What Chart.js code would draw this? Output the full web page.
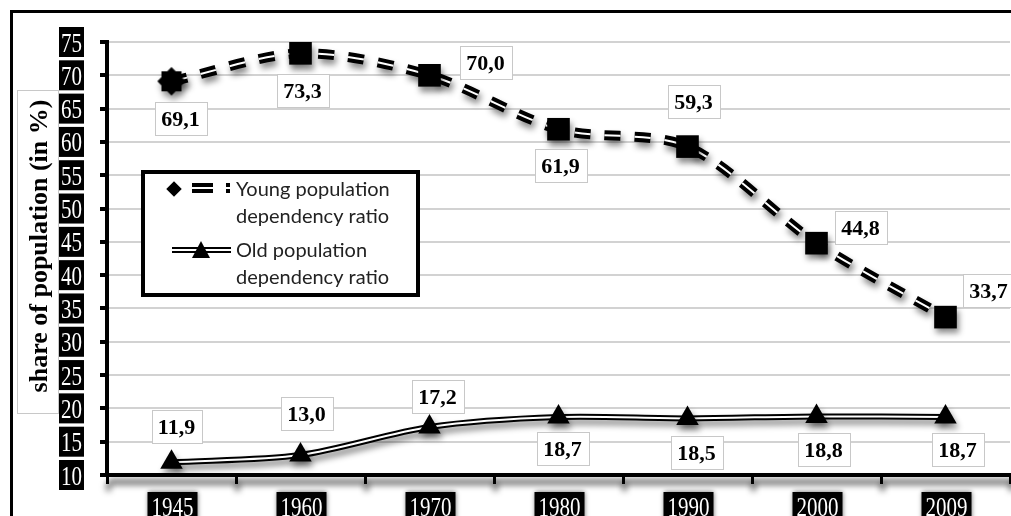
<!DOCTYPE html>
<html>
<head>
<meta charset="utf-8">
<script src="https://cdn.jsdelivr.net/npm/chart.js@4.4.1/dist/chart.umd.min.js"></script>
<style>
  html, body { margin: 0; padding: 0; background: #fff; overflow: hidden; }
  #wrap { width: 1011px; height: 516px; position: relative; }
</style>
</head>
<body>
<div id="wrap"><canvas id="c" width="1011" height="516"></canvas></div>
<script>
// ---- data ----
const years = ['1945', '1960', '1970', '1980', '1990', '2000', '2009'];
const youngRatio = [69.1, 73.3, 70.0, 61.9, 59.3, 44.8, 33.7];
const oldRatio = [11.9, 13.0, 17.2, 18.7, 18.5, 18.8, 18.7];
const yMin = 10;
const yMax = 75;
const yStep = 5;
const youngName = ['Young population', 'dependency ratio'];
const oldName = ['Old population', 'dependency ratio'];
const axisTitle = 'share of population (in %)';

// value-label placement relative to its point, in pixels
const youngLabelOffset = [[9, 37], [2, 37], [56, -13], [2, 36], [6, -45], [44, -16], [43, -27]];
const oldLabelOffset = [[5, -36], [6, -42], [8, -31], [4, 31], [9, 34], [7, 33], [12, 32]];

const fmt = v => v.toFixed(1).replace('.', ',');

// first marker of the young series: square overlaid with a diamond
function starMarker() {
  const cv = document.createElement('canvas');
  cv.width = 32; cv.height = 32;
  const g = cv.getContext('2d');
  g.fillStyle = '#000';
  g.fillRect(6, 6, 20, 20);
  g.save();
  g.translate(16, 16);
  g.rotate(Math.PI / 4);
  g.fillRect(-10, -10, 20, 20);
  g.restore();
  return cv;
}
const youngMarkers = years.map((_, i) => i === 0 ? starMarker() : 'rect');

const DASH = [16, 14];
const TENSION = 0.3;

// datasets with a drop shadow
const shadowSets = new Set([0, 2, 3, 5]);

const shadowPlugin = {
  id: 'shadows',
  beforeDatasetDraw(chart, args) {
    if (!shadowSets.has(args.index)) return;
    const c = chart.ctx;
    c.save();
    c.shadowColor = 'rgba(0,0,0,0.45)';
    c.shadowBlur = 6;
    c.shadowOffsetX = 2;
    c.shadowOffsetY = 5;
  },
  afterDatasetDraw(chart, args) {
    if (!shadowSets.has(args.index)) return;
    chart.ctx.restore();
  }
};

// soft shadow under the category axis and its tick marks
const axisShadowPlugin = {
  id: 'axisShadow',
  beforeDraw(chart) {
    const c = chart.ctx, a = chart.chartArea;
    c.save();
    c.filter = 'blur(3px)';
    c.fillStyle = 'rgba(0,0,0,0.55)';
    c.fillRect(a.left + 2, a.bottom + 4, a.right - a.left + 10, 6);
    for (let i = 0; i <= years.length; i++) {
      const x = a.left + (a.right - a.left) * i / years.length;
      c.fillRect(x - 1, a.bottom + 8, 5, 8);
    }
    c.restore();
  }
};

const decorPlugin = {
  id: 'decor',
  afterDraw(chart) {
    const c = chart.ctx, ys = chart.scales.y, xs = chart.scales.x;

    // outer frame
    c.save();
    c.strokeStyle = '#000';
    c.lineWidth = 3;
    c.strokeRect(11.5, 11.5, 1200, 700);
    c.restore();

    // axis title in its light box
    c.save();
    c.strokeStyle = '#c8c8c8';
    c.lineWidth = 1;
    c.fillStyle = '#fff';
    c.fillRect(17.5, 90.5, 41, 323);
    c.strokeRect(17.5, 90.5, 41, 323);
    c.translate(40, 246);
    c.rotate(-Math.PI / 2);
    c.fillStyle = '#000';
    c.font = 'bold 26px "Liberation Serif"';
    c.textAlign = 'center';
    c.textBaseline = 'middle';
    c.fillText(axisTitle, 0, 0);
    c.restore();

    // value axis labels: white on black
    ys.ticks.forEach(t => {
      const y = ys.getPixelForValue(t.value);
      c.save();
      c.fillStyle = '#000';
      c.fillRect(59, y - 15, 25, 30);
      c.fillStyle = '#fff';
      c.font = '28px "Liberation Serif"';
      c.textAlign = 'center';
      c.textBaseline = 'alphabetic';
      c.translate(71.5, y + 9.5);
      c.scale(0.75, 1);
      c.fillText(String(t.value), 0, 0);
      c.restore();
    });

    // category labels: white on black
    years.forEach((lab, i) => {
      const x = xs.getPixelForValue(i);
      c.save();
      c.shadowColor = 'rgba(0,0,0,0.6)';
      c.shadowBlur = 5;
      c.fillStyle = '#000';
      c.fillRect(x - 24, 492, 50, 30);
      c.shadowColor = 'transparent';
      c.fillStyle = '#fff';
      c.font = '28px "Liberation Serif"';
      c.textAlign = 'center';
      c.textBaseline = 'alphabetic';
      c.translate(x + 1, 516);
      c.scale(0.75, 1);
      c.fillText(lab, 0, 0);
      c.restore();
    });

    // value labels
    const drawLabels = (dsIndex, values, offs) => {
      const meta = chart.getDatasetMeta(dsIndex);
      values.forEach((v, i) => {
        const p = meta.data[i];
        const cx = p.x + offs[i][0], cy = p.y + offs[i][1];
        const txt = fmt(v);
        c.save();
        c.font = 'bold 22px "Liberation Serif"';
        const w = Math.round(c.measureText(txt).width) + 13, h = 33;
        const bx = Math.round(cx - w / 2) + 0.5, by = Math.round(cy - h / 2) + 0.5;
        c.fillStyle = '#fff';
        c.fillRect(bx, by, w, h);
        c.strokeStyle = '#c8c8c8';
        c.lineWidth = 1;
        c.strokeRect(bx, by, w, h);
        c.fillStyle = '#000';
        c.textAlign = 'center';
        c.textBaseline = 'alphabetic';
        c.fillText(txt, cx, cy + 7.5);
        c.restore();
      });
    };
    drawLabels(2, youngRatio, youngLabelOffset);
    drawLabels(5, oldRatio, oldLabelOffset);

    // legend
    c.save();
    c.fillStyle = '#fff';
    c.fillRect(143, 172, 275, 123);
    c.strokeStyle = '#000';
    c.lineWidth = 4;
    c.strokeRect(143, 172, 275, 123);

    // young sample: diamond, dashed double line
    c.fillStyle = '#000';
    c.save();
    c.translate(174, 189);
    c.rotate(Math.PI / 4);
    c.fillRect(-5.5, -5.5, 11, 11);
    c.restore();
    c.beginPath();
    c.setLineDash([21, 13]);
    c.moveTo(192, 188); c.lineTo(230, 188);
    c.lineWidth = 10; c.strokeStyle = '#000'; c.stroke();
    c.lineWidth = 2; c.strokeStyle = '#fff'; c.stroke();
    c.setLineDash([]);

    // old sample: double line with triangle
    c.beginPath();
    c.moveTo(172, 250); c.lineTo(231, 250);
    c.lineWidth = 6; c.strokeStyle = '#000'; c.stroke();
    c.lineWidth = 2; c.strokeStyle = '#fff'; c.stroke();
    c.beginPath();
    c.moveTo(201, 241); c.lineTo(210, 258); c.lineTo(192, 258); c.closePath();
    c.fillStyle = '#000'; c.fill();

    c.fillStyle = '#222';
    c.font = '20px Lato';
    c.textAlign = 'left';
    c.textBaseline = 'alphabetic';
    c.fillText(youngName[0], 236, 196);
    c.fillText(youngName[1], 236, 223);
    c.fillText(oldName[0], 236, 257);
    c.fillText(oldName[1], 236, 284);
    c.restore();
  }
};

new Chart(document.getElementById('c'), {
  type: 'line',
  data: {
    labels: years,
    datasets: [
      { label: youngName.join(' '), data: youngRatio, borderColor: '#000', borderWidth: 10,
        borderDash: DASH, tension: TENSION, pointRadius: 0, fill: false, order: 6 },
      { label: '', data: youngRatio, borderColor: '#fff', borderWidth: 2,
        borderDash: DASH, tension: TENSION, pointRadius: 0, fill: false, order: 5 },
      { label: '', data: youngRatio, showLine: false, pointStyle: youngMarkers, pointRadius: 16,
        pointBackgroundColor: '#000', pointBorderColor: '#000', pointBorderWidth: 0, order: 4 },
      { label: oldName.join(' '), data: oldRatio, borderColor: '#000', borderWidth: 6,
        tension: TENSION, pointRadius: 0, fill: false, order: 3 },
      { label: '', data: oldRatio, borderColor: '#fff', borderWidth: 2,
        tension: TENSION, pointRadius: 0, fill: false, order: 2 },
      { label: '', data: oldRatio, showLine: false, pointStyle: 'triangle', pointRadius: 13,
        pointBackgroundColor: '#000', pointBorderColor: '#000', pointBorderWidth: 0, order: 1 }
    ]
  },
  options: {
    responsive: false,
    animation: false,
    devicePixelRatio: 1,
    layout: { autoPadding: false, padding: { top: 42, right: 1, bottom: 0, left: 0 } },
    plugins: { legend: { display: false }, tooltip: { enabled: false } },
    scales: {
      x: {
        type: 'category',
        offset: true,
        ticks: { display: false },
        grid: { display: true, drawOnChartArea: false, drawTicks: true, offset: true,
                tickLength: 9, tickColor: '#000', tickWidth: 3 },
        border: { display: true, color: '#000', width: 4 },
        afterFit(s) { s.height = 41; }
      },
      y: {
        min: yMin,
        max: yMax,
        ticks: { display: false, stepSize: yStep },
        grid: { color: '#d2d2d2', lineWidth: 2, drawTicks: true, tickLength: 7,
                tickColor: '#000', tickWidth: 4 },
        border: { display: true, color: '#000', width: 4 },
        afterFit(s) { s.width = 107; }
      }
    }
  },
  plugins: [axisShadowPlugin, shadowPlugin, decorPlugin]
});
</script>
</body>
</html>
